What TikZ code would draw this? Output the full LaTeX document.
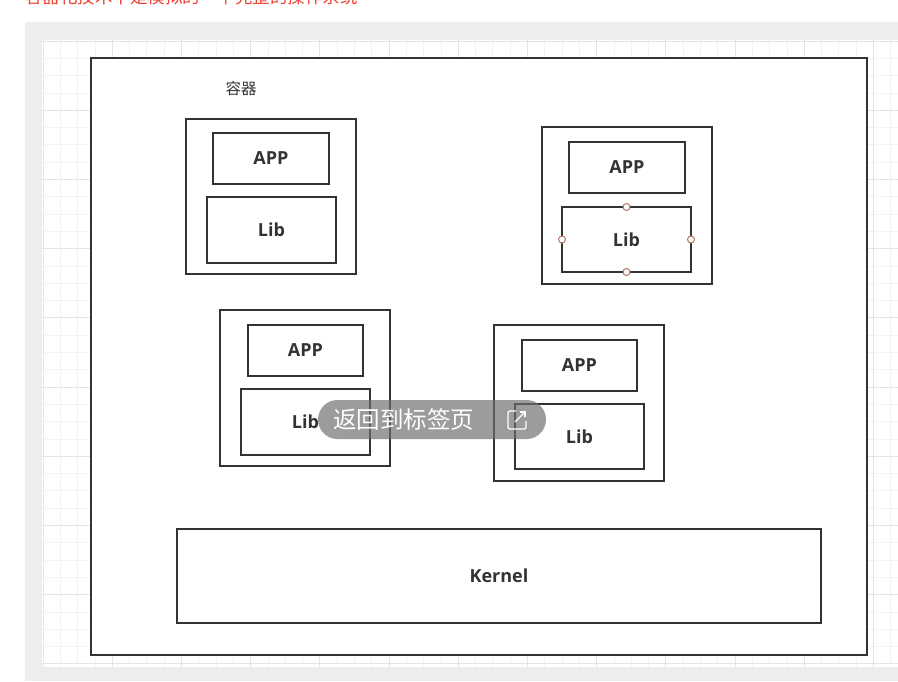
\documentclass[tikz,border=0pt]{standalone}
\usepackage{fontspec}
\newfontfamily\lblfont{Open Sans}
\newfontfamily\cjk{Noto Sans CJK SC}
\definecolor{frame}{HTML}{EDEDED}
\definecolor{minorg}{HTML}{F3F3F3}
\definecolor{majorg}{HTML}{E4E4E4}
\definecolor{edge}{HTML}{333333}
\definecolor{handle}{HTML}{B06A5E}
\definecolor{redtxt}{HTML}{F0402F}
\tikzset{
  box/.style={draw=edge, line width=1.7pt, fill=white, inner sep=0pt, outer sep=0pt},
  lbl/.style={font=\lblfont\bfseries\fontsize{18}{20}\selectfont, text=edge},
  hdl/.style={circle, draw=handle, fill=white, line width=0.9pt, minimum size=7pt, inner sep=0pt},
}
\begin{document}
\begin{tikzpicture}[x=1pt,y=-1pt]
\useasboundingbox (0,0) rectangle (898,681);
\clip (0,0) rectangle (898,681);
\fill[white] (0,0) rectangle (898,681);
% red cut-off text
\node[anchor=west, text=redtxt, font=\cjk\fontsize{17.5}{20}\selectfont, inner sep=0pt] (redline) at (25,-3) {容器化技术不是模拟的一个完整的操作系统};
% grey frame and grid
\fill[frame] (25,22) rectangle (898,681);
\fill[white] (42,40) rectangle (898,667);
\foreach \i in {0,...,49} {
  \pgfmathtruncatemacro{\m}{mod(\i,4)}
  \ifnum\m=0 \def\gc{majorg}\else\def\gc{minorg}\fi
  \draw[\gc, line width=0.7pt] (43+\i*17.3,40) -- (43+\i*17.3,667);
}
\foreach \j in {0,...,36} {
  \pgfmathtruncatemacro{\m}{mod(\j,4)}
  \ifnum\m=0 \def\gc{majorg}\else\def\gc{minorg}\fi
  \draw[\gc, line width=0.7pt] (42,41+\j*17.3) -- (898,41+\j*17.3);
}
% outer box
\node[box, minimum width=776pt, minimum height=597pt] (outer) at (479,356.5) {};
\node[font=\cjk\fontsize{15.5}{17}\selectfont, text=edge] (title) at (241,89) {容器};
% container 1
\node[box, minimum width=170pt, minimum height=155pt] (c1) at (271,196.5) {};
\node[box, lbl, minimum width=116pt, minimum height=51pt] (app1) at (271,158.5) {APP};
\node[box, lbl, minimum width=129pt, minimum height=66pt] (lib1) at (271.5,230) {Lib};
% container 2
\node[box, minimum width=170pt, minimum height=157pt] (c2) at (627,205.5) {};
\node[box, lbl, minimum width=116pt, minimum height=51pt] (app2) at (627,167.5) {APP};
\node[box, lbl, minimum width=129pt, minimum height=65pt] (lib2) at (626.5,239.5) {Lib};
\node[hdl] (h1) at (lib2.north) {};
\node[hdl] (h2) at (lib2.south) {};
\node[hdl] (h3) at (lib2.west) {};
\node[hdl] (h4) at (lib2.east) {};
% container 3
\node[box, minimum width=170pt, minimum height=156pt] (c3) at (305,388) {};
\node[box, lbl, minimum width=115pt, minimum height=51pt] (app3) at (305.5,350.5) {APP};
\node[box, lbl, minimum width=129pt, minimum height=66pt] (lib3) at (305.5,422) {Lib};
% container 4
\node[box, minimum width=170pt, minimum height=156pt] (c4) at (579,403) {};
\node[box, lbl, minimum width=115pt, minimum height=51pt] (app4) at (579.5,365.5) {APP};
\node[box, lbl, minimum width=129pt, minimum height=65pt] (lib4) at (579.5,436.5) {Lib};
% kernel
\node[box, lbl, minimum width=644pt, minimum height=94pt] (kernel) at (499,576) {Kernel};
% overlay pill
\node[fill={rgb,255:red,110;green,110;blue,110}, fill opacity=0.68, rounded corners=19.5pt, minimum width=228pt, minimum height=39pt, inner sep=0pt] (pill) at (432,419.5) {};
\node[text=white, font=\cjk\fontsize{23.5}{26}\selectfont, inner sep=0pt, anchor=west] (pilltxt) at (333,419.5) {返回到标签页};
\coordinate (ic) at (517,420);
\draw[white, line width=1.3pt, rounded corners=2pt] ([xshift=-1pt,yshift=9pt]ic) -- ([xshift=-9pt,yshift=9pt]ic) -- ([xshift=-9pt,yshift=-9pt]ic) -- ([xshift=9pt,yshift=-9pt]ic) -- ([xshift=9pt,yshift=-1pt]ic);
\draw[white, line width=1.3pt] ([xshift=-2pt,yshift=-2pt]ic) -- ([xshift=8pt,yshift=8pt]ic);
\draw[white, line width=1.3pt] ([xshift=3pt,yshift=8pt]ic) -- ([xshift=8pt,yshift=8pt]ic) -- ([xshift=8pt,yshift=3pt]ic);
\end{tikzpicture}
\end{document}
